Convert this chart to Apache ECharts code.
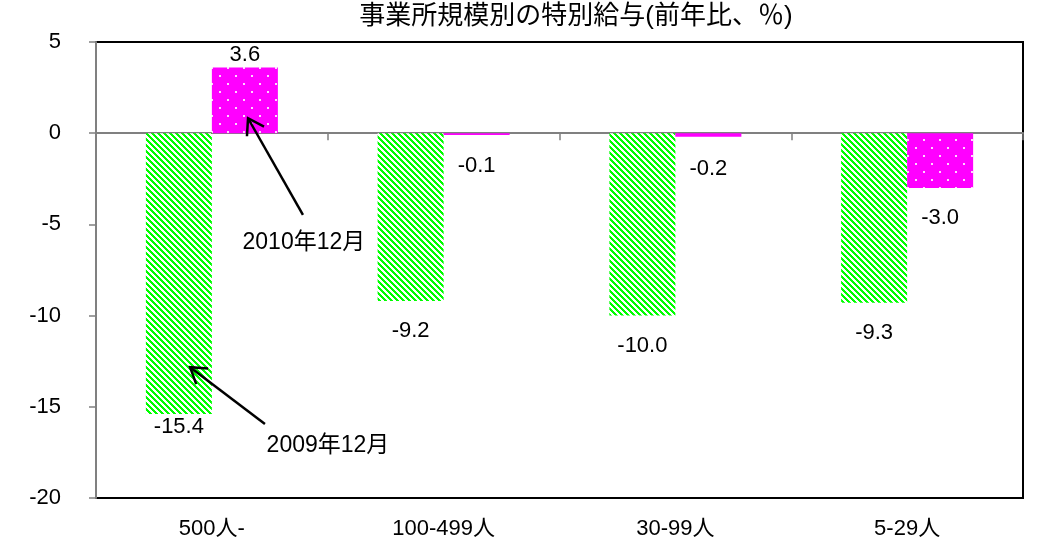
<!DOCTYPE html>
<html><head><meta charset="utf-8">
<script src="https://cdn.jsdelivr.net/npm/echarts@6/dist/echarts.min.js"></script>
<style>html,body{margin:0;padding:0;background:#fff}#c{width:1039px;height:547px}</style>
</head><body><div id="c"></div>
<script>
// ---- data ----
const categories = ['500人-', '100-499人', '30-99人', '5-29人'];
const seriesNames = ['2009年12月', '2010年12月'];
const values2009 = [-15.4, -9.2, -10.0, -9.3];
const values2010 = [3.6, -0.1, -0.2, -3.0];
const yMin = -20, yMax = 5, yStep = 5;
const titleText = '事業所規模別の特別給与(前年比、％)';
// annotation arrows in data units: [tailX, tailY, headX, headY, labelX, labelY]
// (x runs 0..4 across the four categories, y in % units)
const annotation2010 = [0.893, -4.48, 0.656, 0.82, 0.897, -6.0];
const annotation2009 = [0.729, -15.94, 0.406, -12.83, 1.001, -17.14];
const annotationLabels = ['2010年12月', '2009年12月'];

// ---- styling ----
const FONT = '"Liberation Sans", "Noto Sans CJK JP", sans-serif';

function makeStripe() {
  const c = document.createElement('canvas');
  const P = 6; c.width = P; c.height = P;
  const ctx = c.getContext('2d');
  const img = ctx.createImageData(P, P);
  for (let y = 0; y < P; y++) for (let x = 0; x < P; x++) {
    const k = (((x - y) % P) + P) % P;
    const i = (y * P + x) * 4;
    if (k < 3) { img.data[i] = 0; img.data[i+1] = 255; img.data[i+2] = 0; }
    else { img.data[i] = 255; img.data[i+1] = 255; img.data[i+2] = 255; }
    img.data[i+3] = 255;
  }
  ctx.putImageData(img, 0, 0);
  return c;
}
function makeDots() {
  const c = document.createElement('canvas');
  c.width = 16; c.height = 16;
  const ctx = c.getContext('2d');
  ctx.fillStyle = '#ff00ff'; ctx.fillRect(0, 0, 16, 16);
  ctx.fillStyle = '#ffd6ff';
  ctx.fillRect(3, 3, 2, 2);
  ctx.fillRect(11, 11, 2, 2);
  return c;
}

const labelGap2009 = [2, 19, 19, 19];
const labelGap2010 = [2, 20, 21, 19];

function barData(vals, gaps) {
  return vals.map((v, i) => ({
    value: v,
    label: { position: v >= 0 ? 'top' : 'bottom', distance: gaps[i] }
  }));
}

const labelStyle = {
  show: true, color: '#000', fontSize: 22, fontFamily: FONT,
  formatter: p => p.value.toFixed(1)
};

const chart = echarts.init(document.getElementById('c'), null, { renderer: 'canvas' });
chart.setOption({
  animation: false,
  backgroundColor: '#fff',
  title: {
    text: titleText, left: 571, top: -1, textAlign: 'center',
    textStyle: { fontSize: 26, fontWeight: 'normal', color: '#000', fontFamily: FONT }
  },
  grid: {
    left: 96, right: 16, top: 42, bottom: 49,
    show: true, borderColor: '#000', borderWidth: 2, backgroundColor: 'transparent'
  },
  xAxis: [
    {
      type: 'category', data: categories, position: 'bottom',
      axisLine: { show: false, onZero: false }, axisTick: { show: false },
      axisLabel: { fontSize: 22, color: '#000', margin: 20, fontFamily: FONT }
    },
    {
      type: 'category', data: categories, position: 'top',
      axisLine: { show: true, onZero: true, lineStyle: { color: '#808080', width: 2 } },
      axisTick: { show: true, inside: true, length: 7, lineStyle: { color: '#808080', width: 1.5 } },
      axisLabel: { show: false }
    },
    { type: 'value', min: 0, max: categories.length, show: false }
  ],
  yAxis: {
    type: 'value', min: yMin, max: yMax, interval: yStep,
    axisLine: { show: true, lineStyle: { color: '#808080', width: 2 } },
    axisTick: { show: true, length: 7, lineStyle: { color: '#808080', width: 1.5 } },
    axisLabel: { fontSize: 22, color: '#000', margin: 35, fontFamily: FONT },
    splitLine: { show: false }
  },
  series: [
    {
      name: seriesNames[0], type: 'bar', xAxisIndex: 0, barWidth: 66, barGap: '0%',
      itemStyle: { color: { image: makeStripe(), repeat: 'repeat' } },
      label: labelStyle,
      data: barData(values2009, labelGap2009)
    },
    {
      name: seriesNames[1], type: 'bar', xAxisIndex: 0, barWidth: 66, barGap: '0%',
      itemStyle: { color: { image: makeDots(), repeat: 'repeat' } },
      label: labelStyle,
      data: barData(values2010, labelGap2010)
    },
    {
      type: 'custom', xAxisIndex: 2, yAxisIndex: 0, clip: false, silent: true, z: 10,
      encode: { x: [0, 2, 4], y: [1, 3, 5] },
      data: [annotation2010, annotation2009],
      renderItem: function (params, api) {
        const tail = api.coord([api.value(0), api.value(1)]);
        const head = api.coord([api.value(2), api.value(3)]);
        const tp = api.coord([api.value(4), api.value(5)]);
        const dx = tail[0] - head[0], dy = tail[1] - head[1];
        const len = Math.hypot(dx, dy);
        const ux = dx / len, uy = dy / len;
        const L = 18, a = 33 * Math.PI / 180;
        const ca = Math.cos(a), sa = Math.sin(a);
        const b1 = [head[0] + L * (ux * ca - uy * sa), head[1] + L * (ux * sa + uy * ca)];
        const b2 = [head[0] + L * (ux * ca + uy * sa), head[1] + L * (-ux * sa + uy * ca)];
        return {
          type: 'group',
          children: [
            { type: 'line', shape: { x1: tail[0], y1: tail[1], x2: head[0], y2: head[1] },
              style: { stroke: '#000', lineWidth: 2.5 } },
            { type: 'polyline', shape: { points: [b1, head, b2] },
              style: { stroke: '#000', lineWidth: 2.5, fill: 'none' } },
            { type: 'text', x: tp[0], y: tp[1],
              style: { text: annotationLabels[params.dataIndex], fill: '#000',
                       fontSize: 23, fontFamily: FONT, align: 'center', verticalAlign: 'middle' } }
          ]
        };
      }
    }
  ]
});
</script>
</body></html>
